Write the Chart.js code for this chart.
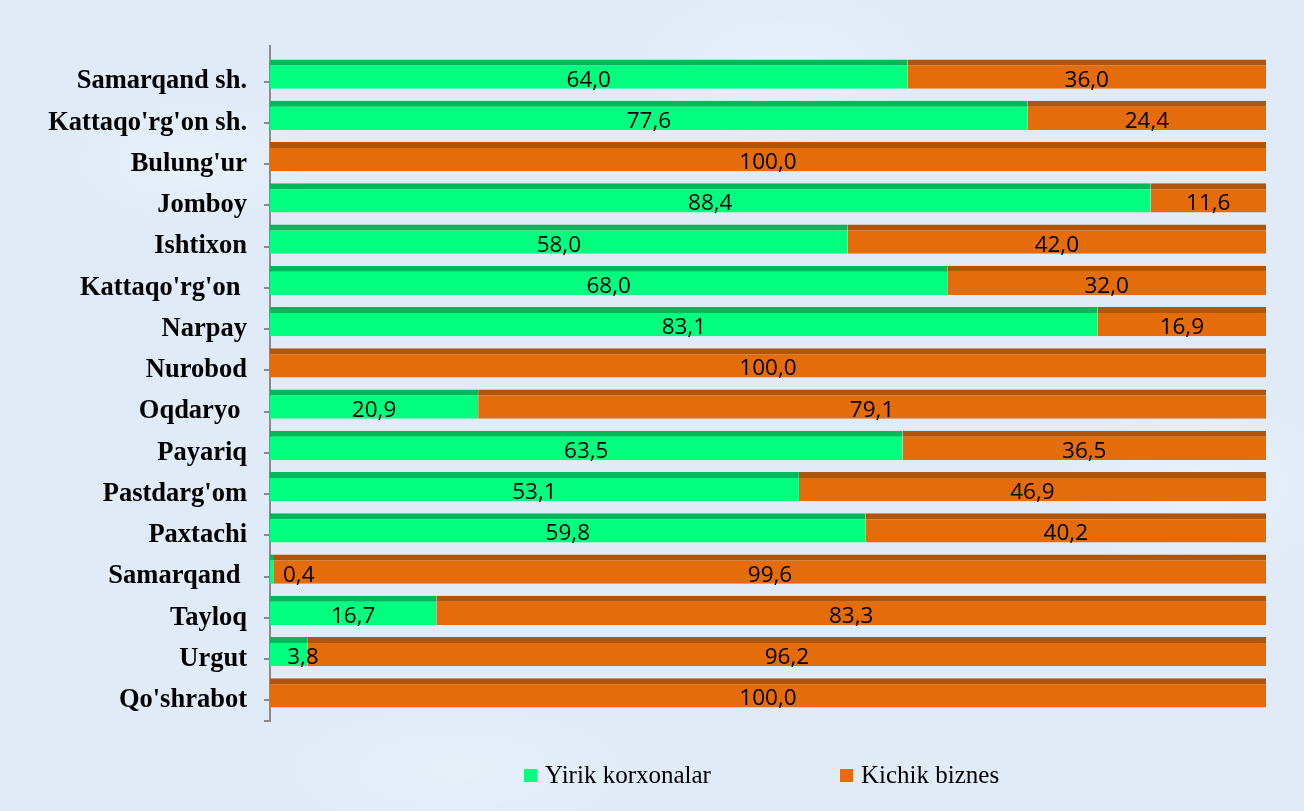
<!DOCTYPE html>
<html>
<head>
<meta charset="utf-8">
<script src="https://cdn.jsdelivr.net/npm/chart.js@4/dist/chart.umd.min.js"></script>
<style>
  html, body { margin: 0; padding: 0; }
  body {
    width: 1304px; height: 811px; overflow: hidden; position: relative;
    background-color: #e0ebf7;
    background-image:
      radial-gradient(ellipse 180px 90px at 15% 20%, rgba(255,255,255,0.30), rgba(255,255,255,0) 70%),
      radial-gradient(ellipse 220px 120px at 60% 8%, rgba(255,255,255,0.25), rgba(255,255,255,0) 70%),
      radial-gradient(ellipse 200px 140px at 92% 60%, rgba(255,255,255,0.30), rgba(255,255,255,0) 70%),
      radial-gradient(ellipse 260px 100px at 35% 95%, rgba(255,255,255,0.25), rgba(255,255,255,0) 70%);
  }
  #wrap { position: absolute; left: 0; top: 0; width: 1304px; height: 811px; }
  #legend { position: absolute; left: 0; top: 760px; width: 1304px; height: 30px;
    font-family: "Liberation Serif", "Times New Roman", serif; font-size: 25px; color: #000; }
  .item { position: absolute; top: 0; height: 30px; display: flex; align-items: center; white-space: nowrap; }
  .box { width: 13px; height: 13px; margin-right: 8px; }
</style>
</head>
<body>
<div id="wrap"><canvas id="c" width="1304" height="811"></canvas></div>
<div id="legend"></div>
<script>
const categories = ["Samarqand sh.", "Kattaqo'rg'on sh.", "Bulung'ur", "Jomboy", "Ishtixon", "Kattaqo'rg'on ", "Narpay", "Nurobod", "Oqdaryo ", "Payariq", "Pastdarg'om", "Paxtachi", "Samarqand ", "Tayloq", "Urgut", "Qo'shrabot"];
const yirikKorxonalar = [64.0, 77.6, 0, 88.4, 58.0, 68.0, 83.1, 0, 20.9, 63.5, 53.1, 59.8, 0.4, 16.7, 3.8, 0];
const kichikBiznes   = [36.0, 24.4, 100.0, 11.6, 42.0, 32.0, 16.9, 100.0, 79.1, 36.5, 46.9, 40.2, 99.6, 83.3, 96.2, 100.0];
const seriesNames = ["Yirik korxonalar", "Kichik biznes"];

// 100% stacked shares built from the raw values
const totals = yirikKorxonalar.map((v, i) => v + kichikBiznes[i]);
const yirikShare = yirikKorxonalar.map((v, i) => v / totals[i] * 100);
const kichikShare = kichikBiznes.map((v, i) => v / totals[i] * 100);
const rawValues = [yirikKorxonalar, kichikBiznes];

const GREEN = '#00ff7f', GREEN_TOP = '#00b85a';
const ORANGE = '#e46c0a', ORANGE_TOP = '#b0560a';
const fmt = v => v.toFixed(1).replace('.', ',');

const shiftPlugin = {
  id: 'shift',
  beforeDatasetsDraw(chart) {
    chart.ctx.save();
    chart.ctx.translate(0, -7.5);
  },
  afterDatasetsDraw(chart) {
    const ctx = chart.ctx;
    ctx.font = '22.5px "Open Sans", sans-serif';
    ctx.fillStyle = '#000';
    ctx.textBaseline = 'middle';
    ctx.textAlign = 'center';
    chart.data.datasets.forEach((ds, di) => {
      const meta = chart.getDatasetMeta(di);
      meta.data.forEach((bar, i) => {
        const v = rawValues[di][i];
        if (!v) return;
        const txt = fmt(v);
        const w = ctx.measureText(txt).width;
        const left = Math.min(bar.x, bar.base), right = Math.max(bar.x, bar.base);
        let cx = (left + right) / 2;
        if (w + 20 > right - left) cx = Math.max(cx + 14, left + 13 + w / 2);
        ctx.fillText(txt, cx, bar.y + 6);
      });
    });
    ctx.restore();
  },
  afterDraw(chart) {
    const ctx = chart.ctx, a = chart.chartArea;
    ctx.save();
    ctx.strokeStyle = '#8a8a8a';
    ctx.lineWidth = 2;
    ctx.beginPath();
    ctx.moveTo(a.left, a.top - 16);
    ctx.lineTo(a.left, a.top);
    ctx.moveTo(a.left - 6, a.bottom);
    ctx.lineTo(a.left, a.bottom);
    ctx.stroke();
    ctx.restore();
  }
};

new Chart(document.getElementById('c'), {
  type: 'bar',
  data: {
    labels: categories,
    datasets: [
      { label: seriesNames[0], data: yirikShare, backgroundColor: GREEN, borderColor: GREEN_TOP,
        borderWidth: { top: 6, left: 0, right: 0, bottom: 0 }, borderSkipped: false,
        barPercentage: 0.71, categoryPercentage: 1.0 },
      { label: seriesNames[1], data: kichikShare, backgroundColor: ORANGE, borderColor: ORANGE_TOP,
        borderWidth: { top: 6, left: 0, right: 0, bottom: 0 }, borderSkipped: false,
        barPercentage: 0.71, categoryPercentage: 1.0 }
    ]
  },
  options: {
    indexAxis: 'y',
    responsive: false,
    animation: false,
    layout: { padding: { left: 0, top: 61, right: 38, bottom: 90 } },
    plugins: { legend: { display: false }, tooltip: { enabled: false } },
    scales: {
      x: { stacked: true, display: false, min: 0, max: 100 },
      y: {
        stacked: true,
        grid: { drawOnChartArea: false, offset: false, tickLength: 6, color: '#8a8a8a', lineWidth: 2 },
        border: { display: true, color: '#8a8a8a', width: 2 },
        ticks: { font: { family: '"Liberation Serif", "Times New Roman", serif', size: 26.5, weight: 'bold' }, color: '#000', padding: 17 },
        afterFit(scale) { scale.width = 270; }
      }
    }
  },
  plugins: [shiftPlugin]
});

// legend (HTML, built from the series)
const legend = document.getElementById('legend');
const legendLefts = [524, 840];
const legendColors = [GREEN, ORANGE];
seriesNames.forEach((name, i) => {
  const it = document.createElement('div');
  it.className = 'item';
  it.style.left = legendLefts[i] + 'px';
  const b = document.createElement('span');
  b.className = 'box';
  b.style.background = legendColors[i];
  const t = document.createElement('span');
  t.textContent = name;
  it.appendChild(b); it.appendChild(t);
  legend.appendChild(it);
});
</script>
</body>
</html>
